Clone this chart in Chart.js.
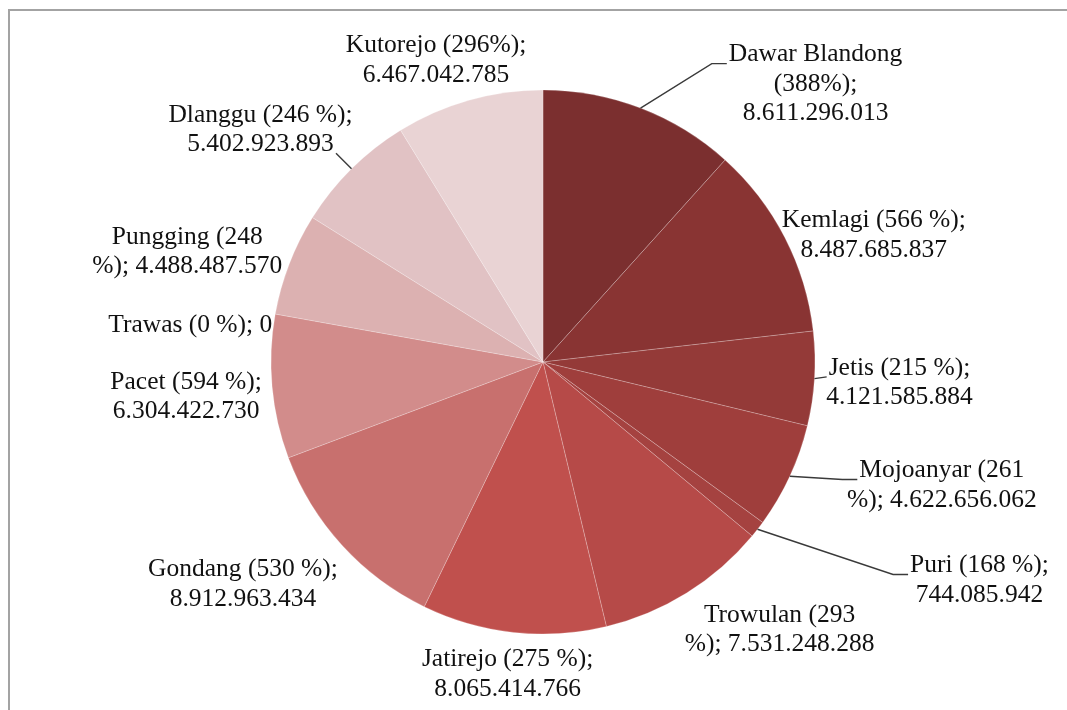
<!DOCTYPE html>
<html>
<head>
<meta charset="utf-8">
<script src="https://cdn.jsdelivr.net/npm/chart.js@4/dist/chart.umd.min.js"></script>
<style>
  html, body { margin: 0; padding: 0; background: #fff; overflow: hidden; }
  #wrap { position: relative; width: 1067px; height: 710px; }
  #frame { position: absolute; left: 8px; top: 9px; right: -10px; bottom: -10px;
           border-left: 2px solid #a3a3a3; border-top: 2px solid #a3a3a3; }
  #wrap canvas { position: absolute; left: 0; top: 0; }
</style>
</head>
<body>
<div id="wrap">
  <div id="frame"></div>
  <canvas id="pie"></canvas>
</div>
<script>
  // kecamatan, clockwise from 12 o'clock
  var districts = ['Dawar Blandong', 'Kemlagi', 'Jetis', 'Mojoanyar', 'Puri', 'Trowulan',
                   'Jatirejo', 'Gondang', 'Pacet', 'Trawas', 'Pungging', 'Dlanggu', 'Kutorejo'];
  var values = [8611296013, 8487685837, 4121585884, 4622656062, 744085942, 7531248288,
                8065414766, 8912963434, 6304422730, 0, 4488487570, 5402923893, 6467042785];
  var shares = ['388%', '566 %', '215 %', '261 %', '168 %', '293 %',
                '275 %', '530 %', '594 %', '0 %', '248 %', '246 %', '296%'];

  // word index where the label text wraps (words built from the arrays above)
  var labelBreaks = [[2, 3], [3], [3], [2], [3], [2], [3], [3], [3], [], [2], [3], [2]];

  var sliceColors = ['#7b2f2f', '#893433', '#943a38', '#9f3e3c', '#a54240', '#b64a48',
                     '#c0504d', '#c8706e', '#d28c8b', '#d8a09f', '#dcb1b1', '#e1c2c4', '#e9d3d4'];

  // label offset from the slice's outer edge (at mid angle), and leader style
  var labelNudge = [[175, -24], [89, -2], [85, 4], [152, 9], [222, 51], [93, 37],
                    [-6, 42], [-99, 39], [-86, 10], [-85, 11], [-102, -12], [-91, -39], [-33, -40]];
  var leaders = ['elbow', null, 'short', 'elbow', 'elbow', null, null, null, null, null, null, 'radial', null];

  var FONT = '25.5px "Liberation Serif", "Times New Roman", serif';
  var LINE_H = 29.5;

  function fmtDots(n){
    return String(n).replace(/\B(?=(\d{3})+(?!\d))/g, '.');
  }

  function labelLines(i){
    var words = (districts[i] + ' (' + shares[i] + '); ' + fmtDots(values[i])).split(' ');
    var lines = [], cur = [];
    words.forEach(function(w, k){
      if (labelBreaks[i].indexOf(k) >= 0 && cur.length) { lines.push(cur.join(' ')); cur = []; }
      cur.push(w);
    });
    lines.push(cur.join(' '));
    return lines;
  }

  var outLabels = {
    id: 'outLabels',
    afterDatasetsDraw: function(chart){
      var ctx = chart.ctx;
      var arcs = chart.getDatasetMeta(0).data;
      ctx.save();
      ctx.font = FONT;
      ctx.textAlign = 'center';
      ctx.textBaseline = 'middle';
      arcs.forEach(function(arc, i){
        var mid = (arc.startAngle + arc.endAngle) / 2;
        var R = arc.outerRadius;
        var ex = arc.x + Math.cos(mid) * R;
        var ey = arc.y + Math.sin(mid) * R;
        var lines = labelLines(i);
        var cx = ex + labelNudge[i][0];
        var cy = ey + labelNudge[i][1];
        var top = cy - (lines.length - 1) * LINE_H / 2;

        // leader line
        var kind = leaders[i];
        if (kind) {
          ctx.strokeStyle = '#3a3a3a';
          ctx.lineWidth = 1.4;
          ctx.beginPath();
          ctx.moveTo(ex, ey);
          var w0 = ctx.measureText(lines[0]).width;
          var left = cx - w0 / 2;
          if (kind === 'elbow') {
            var by = top + 9;
            ctx.lineTo(left - 17, by);
            ctx.lineTo(left - 2, by);
          } else if (kind === 'short') {
            ctx.lineTo(left - 2, top + 9);
          } else if (kind === 'radial') {
            ctx.lineTo(ex + Math.cos(mid) * 22, ey + Math.sin(mid) * 22);
          }
          ctx.stroke();
        }

        ctx.fillStyle = '#111';
        lines.forEach(function(t, k){
          ctx.fillText(t, cx, top + k * LINE_H);
        });
      });
      ctx.restore();
    }
  };

  document.addEventListener('DOMContentLoaded', function(){
    var cv = document.getElementById('pie');
    cv.width = 1067;
    cv.height = 710;
    new Chart(cv, {
      type: 'pie',
      data: {
        labels: districts,
        datasets: [{
          data: values,
          backgroundColor: sliceColors,
          borderColor: 'rgba(255, 255, 255, 0.22)',
          borderWidth: 1,
          radius: 272
        }]
      },
      options: {
        responsive: false,
        animation: false,
        layout: { padding: { left: 271, right: 252, top: 90, bottom: 76 } },
        plugins: {
          legend: { display: false },
          tooltip: { enabled: false }
        }
      },
      plugins: [outLabels]
    });
  });
</script>
</body>
</html>
